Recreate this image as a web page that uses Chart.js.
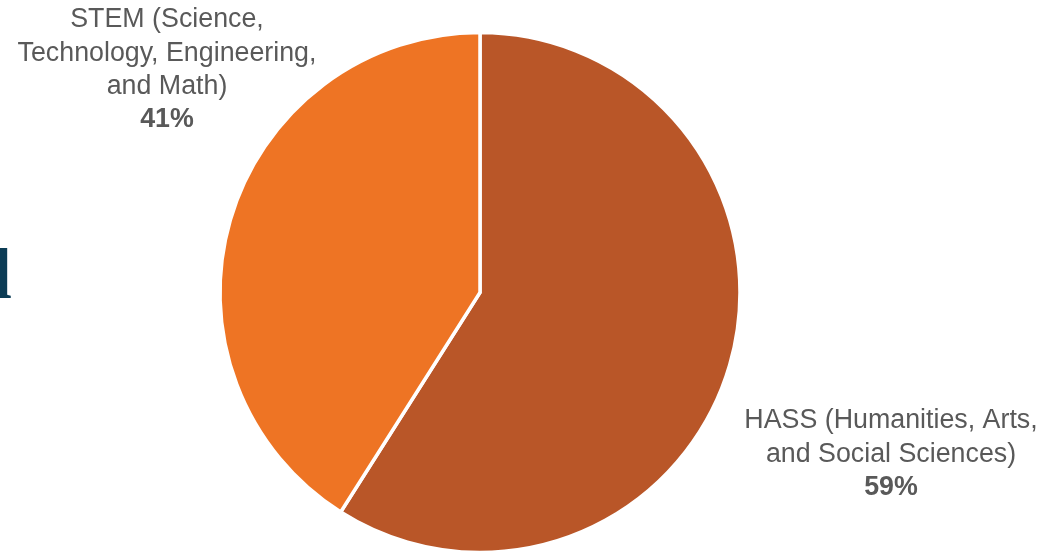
<!DOCTYPE html>
<html>
<head>
<meta charset="utf-8">
<script src="https://cdn.jsdelivr.net/npm/chart.js@4/dist/chart.umd.min.js"></script>
<style>
  html, body { margin: 0; padding: 0; background: #fff; }
  #wrap { position: relative; width: 1044px; height: 553px; overflow: hidden; }
</style>
</head>
<body>
<div id="wrap"><canvas id="chart" width="1044" height="553"></canvas></div>
<script>
const categories = ['HASS (Humanities, Arts,\nand Social Sciences)', 'STEM (Science,\nTechnology, Engineering,\nand Math)'];
const shares = [59, 41];
const sliceColors = ['#B95628', '#EE7424'];

// where each data label block is centred (x, y of the first line)
const labelSpots = [
  { x: 891, y: 421 },
  { x: 167, y: 20 }
];

const labelPlugin = {
  id: 'sliceLabels',
  afterDraw(chart) {
    const ctx = chart.ctx;
    const data = chart.data.datasets[0].data;
    const total = data.reduce((a, b) => a + b, 0);
    ctx.save();
    ctx.fillStyle = '#595959';
    ctx.textAlign = 'center';
    ctx.textBaseline = 'middle';
    chart.data.labels.forEach((label, i) => {
      const spot = labelSpots[i];
      const lines = label.split('\n');
      ctx.font = '26.8px "Liberation Sans", Arial, sans-serif';
      lines.forEach((line, j) => ctx.fillText(line, spot.x, spot.y + j * 33.3));
      ctx.font = 'bold 26.8px "Liberation Sans", Arial, sans-serif';
      const pct = Math.round(data[i] / total * 100) + '%';
      ctx.fillText(pct, spot.x, spot.y + lines.length * 33.3);
    });

    // the cut-off title letter at the left edge of the slide
    ctx.fillStyle = '#0C3C55';
    ctx.textAlign = 'right';
    ctx.textBaseline = 'alphabetic';
    ctx.font = 'bold 71px "Liberation Serif", "Times New Roman", serif';
    ctx.fillText('l', 12, 298);
    ctx.restore();
  }
};

new Chart(document.getElementById('chart'), {
  type: 'pie',
  data: {
    labels: categories,
    datasets: [{
      data: shares,
      backgroundColor: sliceColors,
      borderColor: '#ffffff',
      borderWidth: 3.5,
      borderJoinStyle: 'miter',
      hoverOffset: 0
    }]
  },
  options: {
    responsive: false,
    animation: false,
    radius: 260,
    layout: { padding: { left: 0, right: 84, top: 32, bottom: 0 } },
    plugins: {
      legend: { display: false },
      tooltip: { enabled: false }
    },
    events: []
  },
  plugins: [labelPlugin]
});
</script>
</body>
</html>
